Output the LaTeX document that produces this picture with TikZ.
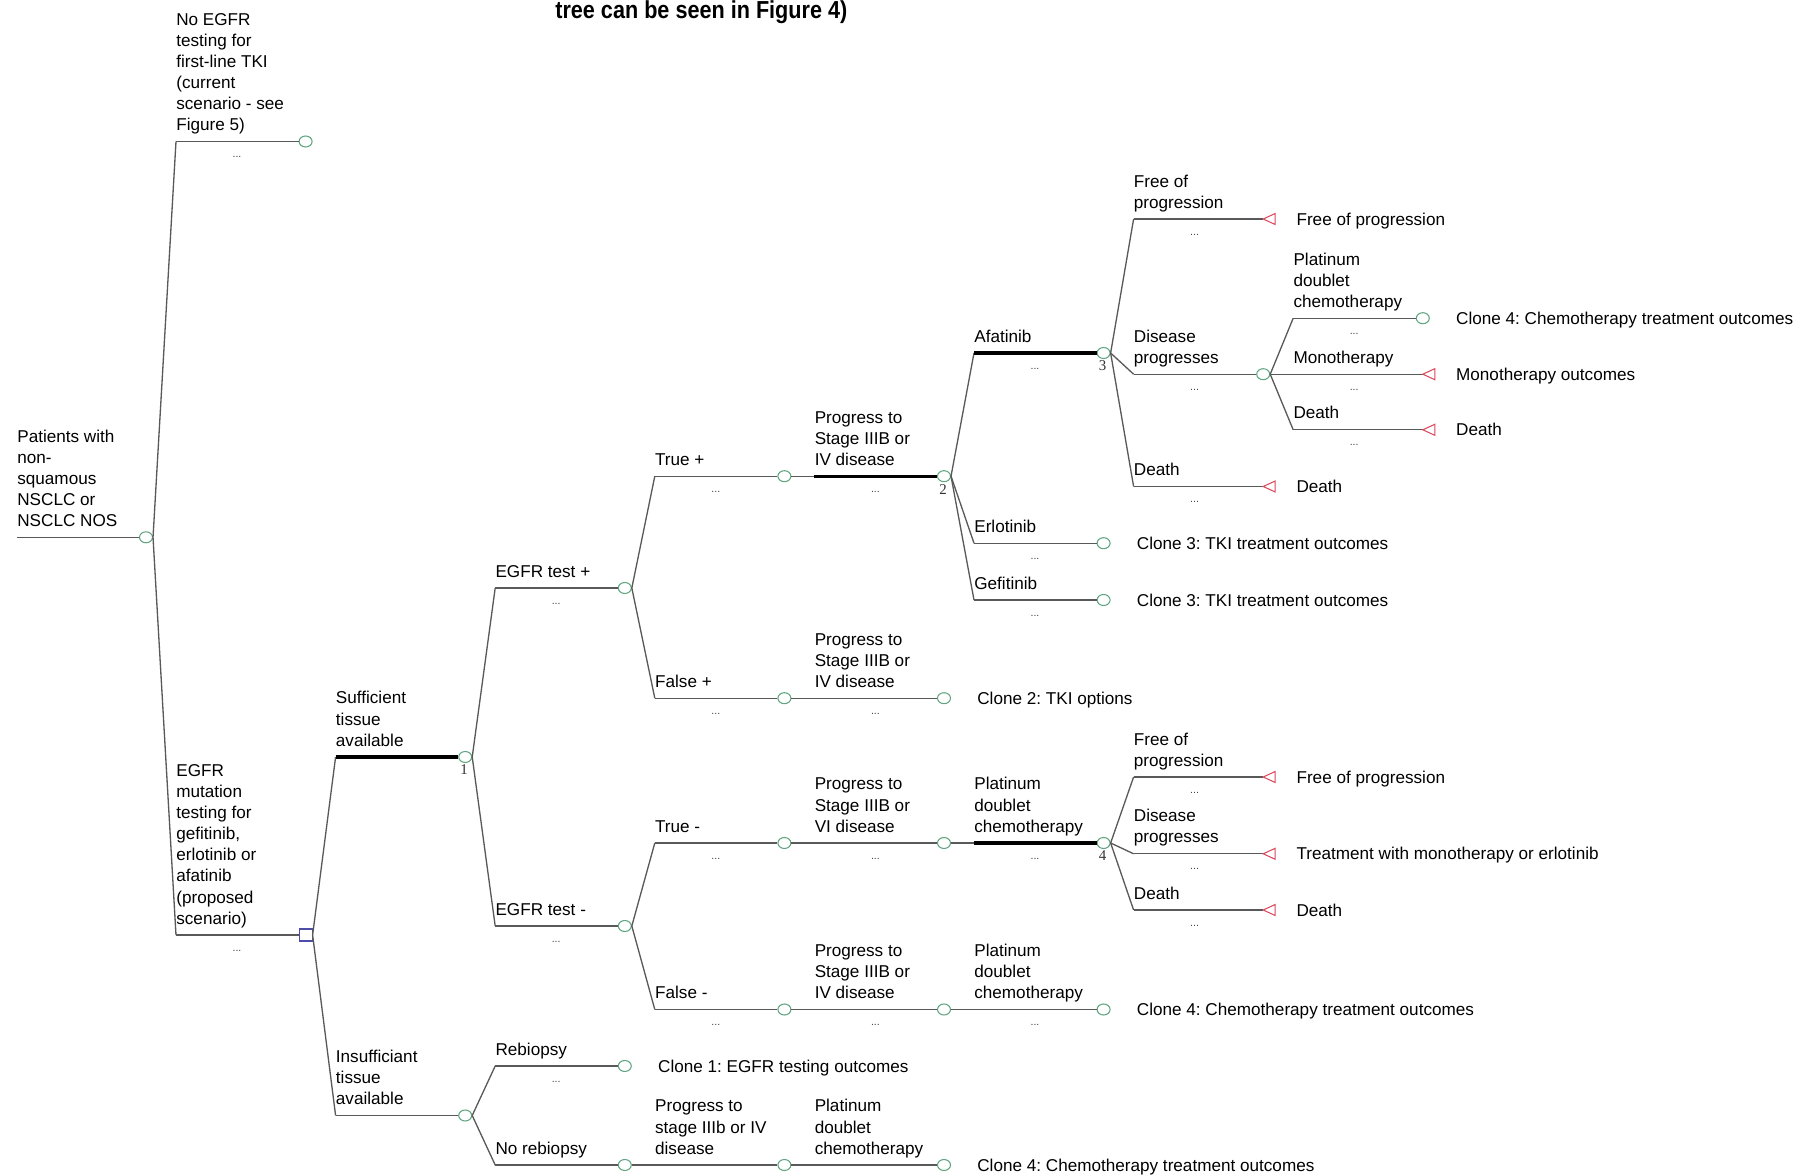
\documentclass[tikz,border=0pt]{standalone}
\usepackage{fontspec}
\setmainfont{Liberation Sans}
\newfontfamily\numfont{Liberation Serif}
\usepackage{graphicx}
\usetikzlibrary{shapes.geometric,calc}
\definecolor{chancegreen}{RGB}{95,165,128}
\definecolor{termred}{RGB}{218,72,92}
\definecolor{decblue}{RGB}{78,78,168}
\frenchspacing

\begin{document}
\begin{tikzpicture}[x=0.02cm,y=-0.02cm,
	every node/.style={font=\fontsize{9.75}{12}\selectfont},
	chance/.style={ellipse,draw=chancegreen,fill=white,line width=0.6pt,inner sep=0pt,minimum width=0.26cm,minimum height=0.22cm},
	decision/.style={rectangle,draw=decblue,fill=white,line width=0.6pt,inner sep=0pt,minimum width=0.26cm,minimum height=0.24cm},
	terminal/.style={coordinate},
	br/.style={draw=black!65,line width=0.75pt},
	opt/.style={draw=black,line width=1.8pt},
	lbl/.style={anchor=south west,align=left,inner sep=0pt,yshift=2.4pt,execute at end node=\strut},
	outl/.style={anchor=base west,inner sep=0pt},
	dots/.style={font=\fontsize{6}{6}\selectfont,text=black!75,inner sep=0pt},
	num/.style={font=\numfont\fontsize{8.5}{9}\selectfont,text=black!80,inner sep=0pt}]
\useasboundingbox (0,0) rectangle (1800,1175);
\clip (0,0) rectangle (1800,1175);
\def\xo{146}
\def\dx{159.6}

\node[anchor=base west,inner sep=0pt,font=\bfseries\fontsize{14}{15}\selectfont] (head) at (555,19) {\scalebox{0.879}[1]{tree can be seen in Figure 4)}};

\node[chance] (r) at (\xo,537.3) {};
\coordinate (r-in) at (17,537.3);
\draw[br] (r-in) -- (r);

\foreach \nm/\k/\y/\kind/\up/\w in {
	n1/1/141.5/chance/r/br, d/1/935/decision/r/br,
	s/2/757/chance/d/opt, ins/2/1115.5/chance/d/br,
	tp/3/588/chance/s/br, tn/3/926/chance/s/br, rb/3/1066/chance/ins/br, nr/3/1165/chance/ins/br,
	trp/4/476.2/chance/tp/br, flp/4/698.2/chance/tp/br, trn/4/843/chance/tn/br, fln/4/1009.5/chance/tn/br, nrp/4/1165/chance/nr/br,
	c2/5/476.2/chance/trp/opt, fpc/5/698.2/chance/flp/br, tnp/5/843/chance/trn/br, fnp/5/1009.5/chance/fln/br, nrc/5/1165/chance/nrp/br,
	c3/6/353/chance/c2/opt, erl/6/543.2/chance/c2/br, gef/6/600/chance/c2/br, c4/6/843/chance/tnp/opt, fnc/6/1009.5/chance/fnp/br,
	t1/7/219/terminal/c3/br, dp/7/374.2/chance/c3/br, t2/7/486.5/terminal/c3/br,
	t3/7/777/terminal/c4/br, t4/7/853.8/terminal/c4/br, t5/7/910/terminal/c4/br,
	pc/8/318.2/chance/dp/br, t6/8/374.2/terminal/dp/br, t7/8/429.8/terminal/dp/br}
{
	\node[\kind] (\nm) at ({\xo+\dx*\k},\y) {};
	\coordinate (\nm-in) at ({\xo+\dx*\k-129.6},\y);
	\draw[br] (\up.east) -- (\nm-in);
	\draw[\w] (\nm-in) -- (\nm);
}

\foreach \i in {1,...,7}
	\draw[termred,line width=0.6pt] (t\i) -- ++(12,-5.5) -- ++(0,11) -- cycle;

\foreach \nm/\txt in {
	r/{Patients with\\non-\\squamous\\NSCLC or\\NSCLC NOS},
	n1/{No EGFR\\testing for\\first-line TKI\\(current\\scenario - see\\Figure 5)},
	d/{EGFR\\mutation\\testing for\\gefitinib,\\erlotinib or\\afatinib\\(proposed\\scenario)},
	s/{Sufficient\\tissue\\available}, ins/{Insufficiant\\tissue\\available},
	tp/{EGFR test +}, tn/{EGFR test -}, rb/Rebiopsy, nr/No rebiopsy,
	trp/True +, flp/False +, trn/True -, fln/False -,
	nrp/{Progress to\\stage IIIb or IV\\disease},
	c2/{Progress to\\Stage IIIB or\\IV disease}, fpc/{Progress to\\Stage IIIB or\\IV disease},
	tnp/{Progress to\\Stage IIIB or\\VI disease}, fnp/{Progress to\\Stage IIIB or\\IV disease},
	nrc/{Platinum\\doublet\\chemotherapy}, c4/{Platinum\\doublet\\chemotherapy}, fnc/{Platinum\\doublet\\chemotherapy},
	c3/Afatinib, erl/Erlotinib, gef/Gefitinib,
	t1/{Free of\\progression}, dp/{Disease\\progresses}, t2/Death,
	t3/{Free of\\progression}, t4/{Disease\\progresses}, t5/Death,
	pc/{Platinum\\doublet\\chemotherapy}, t6/Monotherapy, t7/Death}
	\node[lbl] (\nm-lbl) at (\nm-in) {\txt};

\foreach \nm in {n1,d,tp,tn,rb,trp,flp,trn,fln,c2,fpc,tnp,fnp,c3,erl,gef,c4,fnc,t1,dp,t2,t3,t4,t5,pc,t6,t7}
	\node[dots] (\nm-dots) at ($(\nm-in)+(61,15.5)$) {...};

\foreach \nm/\i in {s/1,c2/2,c3/3,c4/4}
	\node[num] (\nm-num) at ($(\nm)+(-1,13)$) {\i};

\foreach \nm/\txt in {
	rb/{Clone 1: EGFR testing outcomes}, fpc/{Clone 2: TKI options},
	erl/{Clone 3: TKI treatment outcomes}, gef/{Clone 3: TKI treatment outcomes},
	nrc/{Clone 4: Chemotherapy treatment outcomes}, fnc/{Clone 4: Chemotherapy treatment outcomes},
	pc/{Clone 4: Chemotherapy treatment outcomes},
	t1/Free of progression, t2/Death, t3/Free of progression,
	t4/Treatment with monotherapy or erlotinib, t5/Death,
	t6/Monotherapy outcomes, t7/Death}
	\node[outl] (\nm-out) at ($(\nm)+(33,6.2)$) {\txt};
\end{tikzpicture}
\end{document}
